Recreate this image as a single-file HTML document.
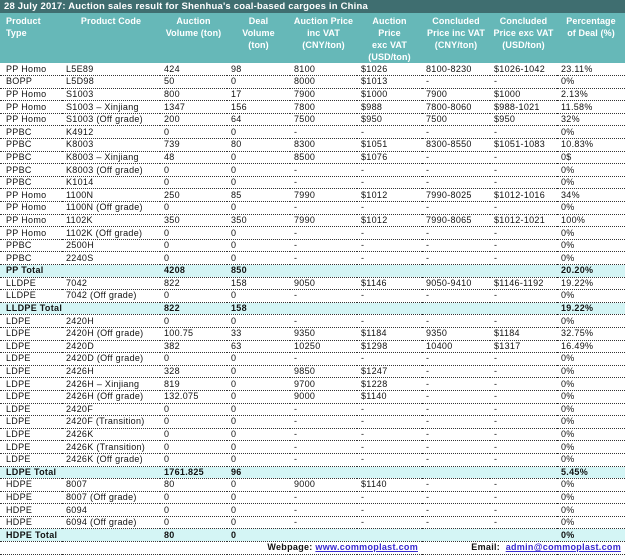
<!DOCTYPE html>
<html><head><meta charset="utf-8"><style>
html,body{margin:0;padding:0;background:#fff;}
body{width:625px;height:559px;overflow:hidden;font-family:"Liberation Sans",sans-serif;font-size:9px;color:#111;}
.title{height:13px;background:#3f6e70;color:#fff;font-weight:bold;font-size:9.5px;line-height:13px;padding-left:4px;white-space:nowrap;letter-spacing:0.2px;}
table{border-collapse:collapse;table-layout:fixed;width:625px;}
td{height:12.6px;padding:0 0 0 4px;border-bottom:1px dotted #333;white-space:nowrap;overflow:hidden;line-height:11px;box-sizing:border-box;letter-spacing:0.3px;}
td:first-child{padding-left:6px;}
tr.h td{height:49px;background:#66b8b8;color:#fff;font-weight:bold;vertical-align:top;text-align:center;line-height:12px;padding:2px 0 0 0;border-bottom:none;white-space:normal;letter-spacing:0.1px;}
tr.h td:first-child{text-align:left;padding-left:6px;}
tr.t td{background:#d4f5f5;font-weight:bold;}
.f td{border-bottom:1px dotted #333;font-weight:bold;}
a{color:#3a2ad0;text-decoration:underline;}
</style></head><body>
<div class="title">28 July 2017: Auction sales result for Shenhua's coal-based cargoes in China</div>
<table>
<colgroup><col style="width:62px"><col style="width:98px"><col style="width:67px"><col style="width:63px"><col style="width:67px"><col style="width:65px"><col style="width:68px"><col style="width:67px"><col style="width:68px"></colgroup>
<tr class="h"><td>Product<br>Type</td><td>Product Code</td><td>Auction<br>Volume (ton)</td><td>Deal<br>Volume<br>(ton)</td><td>Auction Price<br>inc VAT<br>(CNY/ton)</td><td>Auction<br>Price<br>exc VAT<br>(USD/ton)</td><td>Concluded<br>Price inc VAT<br>(CNY/ton)</td><td>Concluded<br>Price exc VAT<br>(USD/ton)</td><td>Percentage<br>of Deal (%)</td></tr>
<tr><td>PP Homo</td><td>L5E89</td><td>424</td><td>98</td><td>8100</td><td>$1026</td><td>8100-8230</td><td>$1026-1042</td><td>23.11%</td></tr>
<tr><td>BOPP</td><td>L5D98</td><td>50</td><td>0</td><td>8000</td><td>$1013</td><td>-</td><td>-</td><td>0%</td></tr>
<tr><td>PP Homo</td><td>S1003</td><td>800</td><td>17</td><td>7900</td><td>$1000</td><td>7900</td><td>$1000</td><td>2.13%</td></tr>
<tr><td>PP Homo</td><td>S1003 – Xinjiang</td><td>1347</td><td>156</td><td>7800</td><td>$988</td><td>7800-8060</td><td>$988-1021</td><td>11.58%</td></tr>
<tr><td>PP Homo</td><td>S1003 (Off grade)</td><td>200</td><td>64</td><td>7500</td><td>$950</td><td>7500</td><td>$950</td><td>32%</td></tr>
<tr><td>PPBC</td><td>K4912</td><td>0</td><td>0</td><td>-</td><td>-</td><td>-</td><td>-</td><td>0%</td></tr>
<tr><td>PPBC</td><td>K8003</td><td>739</td><td>80</td><td>8300</td><td>$1051</td><td>8300-8550</td><td>$1051-1083</td><td>10.83%</td></tr>
<tr><td>PPBC</td><td>K8003 – Xinjiang</td><td>48</td><td>0</td><td>8500</td><td>$1076</td><td>-</td><td>-</td><td>0$</td></tr>
<tr><td>PPBC</td><td>K8003 (Off grade)</td><td>0</td><td>0</td><td>-</td><td>-</td><td>-</td><td>-</td><td>0%</td></tr>
<tr><td>PPBC</td><td>K1014</td><td>0</td><td>0</td><td>-</td><td>-</td><td>-</td><td>-</td><td>0%</td></tr>
<tr><td>PP Homo</td><td>1100N</td><td>250</td><td>85</td><td>7990</td><td>$1012</td><td>7990-8025</td><td>$1012-1016</td><td>34%</td></tr>
<tr><td>PP Homo</td><td>1100N (Off grade)</td><td>0</td><td>0</td><td>-</td><td>-</td><td>-</td><td>-</td><td>0%</td></tr>
<tr><td>PP Homo</td><td>1102K</td><td>350</td><td>350</td><td>7990</td><td>$1012</td><td>7990-8065</td><td>$1012-1021</td><td>100%</td></tr>
<tr><td>PP Homo</td><td>1102K (Off grade)</td><td>0</td><td>0</td><td>-</td><td>-</td><td>-</td><td>-</td><td>0%</td></tr>
<tr><td>PPBC</td><td>2500H</td><td>0</td><td>0</td><td>-</td><td>-</td><td>-</td><td>-</td><td>0%</td></tr>
<tr><td>PPBC</td><td>2240S</td><td>0</td><td>0</td><td>-</td><td>-</td><td>-</td><td>-</td><td>0%</td></tr>
<tr class="t"><td>PP Total</td><td></td><td>4208</td><td>850</td><td></td><td></td><td></td><td></td><td>20.20%</td></tr>
<tr><td>LLDPE</td><td>7042</td><td>822</td><td>158</td><td>9050</td><td>$1146</td><td>9050-9410</td><td>$1146-1192</td><td>19.22%</td></tr>
<tr><td>LLDPE</td><td>7042 (Off grade)</td><td>0</td><td>0</td><td>-</td><td>-</td><td>-</td><td>-</td><td>0%</td></tr>
<tr class="t"><td>LLDPE Total</td><td></td><td>822</td><td>158</td><td></td><td></td><td></td><td></td><td>19.22%</td></tr>
<tr><td>LDPE</td><td>2420H</td><td>0</td><td>0</td><td>-</td><td>-</td><td>-</td><td>-</td><td>0%</td></tr>
<tr><td>LDPE</td><td>2420H (Off grade)</td><td>100.75</td><td>33</td><td>9350</td><td>$1184</td><td>9350</td><td>$1184</td><td>32.75%</td></tr>
<tr><td>LDPE</td><td>2420D</td><td>382</td><td>63</td><td>10250</td><td>$1298</td><td>10400</td><td>$1317</td><td>16.49%</td></tr>
<tr><td>LDPE</td><td>2420D (Off grade)</td><td>0</td><td>0</td><td>-</td><td>-</td><td>-</td><td>-</td><td>0%</td></tr>
<tr><td>LDPE</td><td>2426H</td><td>328</td><td>0</td><td>9850</td><td>$1247</td><td>-</td><td>-</td><td>0%</td></tr>
<tr><td>LDPE</td><td>2426H – Xinjiang</td><td>819</td><td>0</td><td>9700</td><td>$1228</td><td>-</td><td>-</td><td>0%</td></tr>
<tr><td>LDPE</td><td>2426H (Off grade)</td><td>132.075</td><td>0</td><td>9000</td><td>$1140</td><td>-</td><td>-</td><td>0%</td></tr>
<tr><td>LDPE</td><td>2420F</td><td>0</td><td>0</td><td>-</td><td>-</td><td>-</td><td>-</td><td>0%</td></tr>
<tr><td>LDPE</td><td>2420F (Transition)</td><td>0</td><td>0</td><td>-</td><td>-</td><td>-</td><td>-</td><td>0%</td></tr>
<tr><td>LDPE</td><td>2426K</td><td>0</td><td>0</td><td>-</td><td>-</td><td>-</td><td>-</td><td>0%</td></tr>
<tr><td>LDPE</td><td>2426K (Transition)</td><td>0</td><td>0</td><td>-</td><td>-</td><td>-</td><td>-</td><td>0%</td></tr>
<tr><td>LDPE</td><td>2426K (Off grade)</td><td>0</td><td>0</td><td>-</td><td>-</td><td>-</td><td>-</td><td>0%</td></tr>
<tr class="t"><td>LDPE Total</td><td></td><td>1761.825</td><td>96</td><td></td><td></td><td></td><td></td><td>5.45%</td></tr>
<tr><td>HDPE</td><td>8007</td><td>80</td><td>0</td><td>9000</td><td>$1140</td><td>-</td><td>-</td><td>0%</td></tr>
<tr><td>HDPE</td><td>8007 (Off grade)</td><td>0</td><td>0</td><td>-</td><td>-</td><td>-</td><td>-</td><td>0%</td></tr>
<tr><td>HDPE</td><td>6094</td><td>0</td><td>0</td><td>-</td><td>-</td><td>-</td><td>-</td><td>0%</td></tr>
<tr><td>HDPE</td><td>6094 (Off grade)</td><td>0</td><td>0</td><td>-</td><td>-</td><td>-</td><td>-</td><td>0%</td></tr>
<tr class="t"><td>HDPE Total</td><td></td><td>80</td><td>0</td><td></td><td></td><td></td><td></td><td>0%</td></tr>
<tr class="f"><td></td><td></td><td colspan="4" style="text-align:right;padding-right:4px;">Webpage: <a>www.commoplast.com</a></td><td colspan="3" style="text-align:right;padding-right:4px;">Email:&nbsp; <a>admin@commoplast.com</a></td></tr>
</table>
</body></html>
